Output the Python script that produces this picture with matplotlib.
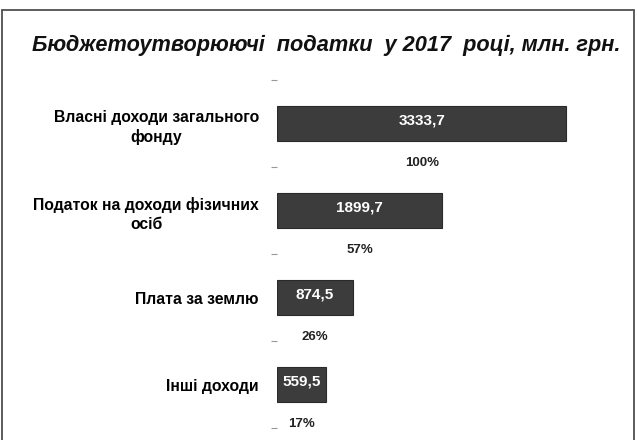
import matplotlib.pyplot as plt
from matplotlib.patches import Rectangle

# дані
categories = ["Власні доходи загального\nфонду",
              "Податок на доходи фізичних\nосіб",
              "Плата за землю",
              "Інші доходи"]
values = [3333.7, 1899.7, 874.5, 559.5]
shares = [100, 57, 26, 17]
title = "Бюджетоутворюючі  податки  у 2017  році, млн. грн."

plt.rcParams['font.family'] = ['Liberation Sans', 'DejaVu Sans']

fig = plt.figure(figsize=(6.37, 4.40), dpi=100)
fig.patch.set_facecolor('white')

# рамка навколо
fig.patches.append(Rectangle((2/637, -0.01), 632/637, 1 - 10/440 + 0.01,
                             transform=fig.transFigure, fill=False,
                             edgecolor='#505050', linewidth=1.3))

fig.text(326/637, 1 - 45/440, title, ha='center', va='center',
         fontsize=15.7, fontweight='bold', fontstyle='italic', color='#111111')

ax = fig.add_axes([277/637, 12/440, 343/637, 348/440])
y = list(range(len(categories)))
ax.barh(y, values, height=0.41, color='#3c3c3c', edgecolor='#2a2a2a',
        linewidth=0.8)

for yi, v, s in zip(y, values, shares):
    ax.text(v / 2, yi - 0.04, f"{v:.1f}".replace('.', ','), ha='center',
            va='center', color='white', fontsize=11, fontweight='bold')
    ax.text(v / 2, yi + 0.45, f"{s}%", ha='center', va='center',
            color='#222222', fontsize=9.5, fontweight='bold')

ax.set_xlim(0, 3950)
ax.set_ylim(3.5, -0.5)
ax.set_yticks(y)
ax.set_yticklabels(categories, fontsize=11.3, fontweight='bold',
                   multialignment='center', linespacing=1.35)
ax.tick_params(axis='y', which='major', length=0, pad=13)
ax.set_yticks([-0.5, 0.5, 1.5, 2.5, 3.5], minor=True)
ax.tick_params(axis='y', which='minor', length=4, color='#999999', width=0.8)
ax.set_xticks([])
for sp in ax.spines.values():
    sp.set_visible(False)

fig.savefig('out.png', dpi=100)
